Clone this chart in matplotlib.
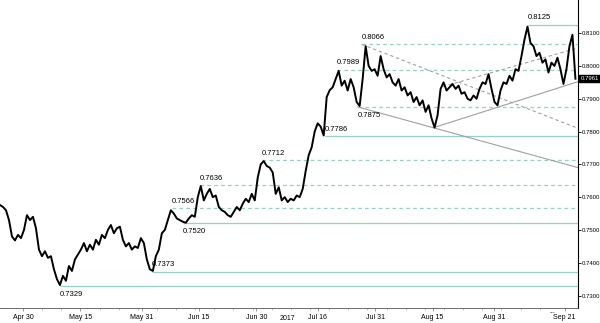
import numpy as np
import matplotlib
matplotlib.use("Agg")
import matplotlib.pyplot as plt
import matplotlib.transforms as mtransforms

# price series, sampled on an even time grid (days since Apr 30)
start_day = -6.0
step_day = 0.783
prices = [
    0.7576, 0.7570, 0.7560, 0.7530, 0.7480, 0.7468, 0.7485, 0.7475, 0.7500, 0.7545,
    0.7530, 0.7540, 0.7505, 0.7440, 0.7420, 0.7435, 0.7415, 0.7420, 0.7380, 0.7350,
    0.7332, 0.7360, 0.7345, 0.7390, 0.7375, 0.7410, 0.7425, 0.7440, 0.7460, 0.7435,
    0.7455, 0.7440, 0.7470, 0.7455, 0.7485, 0.7475, 0.7500, 0.7515, 0.7490, 0.7505,
    0.7510, 0.7470, 0.7450, 0.7460, 0.7440, 0.7450, 0.7445, 0.7475, 0.7460, 0.7410,
    0.7380, 0.7375, 0.7420, 0.7440, 0.7490, 0.7500, 0.7530, 0.7560, 0.7550, 0.7535,
    0.7530, 0.7525, 0.7522, 0.7535, 0.7545, 0.7540, 0.7600, 0.7634, 0.7590, 0.7610,
    0.7625, 0.7600, 0.7605, 0.7570, 0.7560, 0.7555, 0.7545, 0.7540, 0.7555, 0.7570,
    0.7560, 0.7580, 0.7595, 0.7585, 0.7610, 0.7590, 0.7660, 0.7700, 0.7710, 0.7695,
    0.7690, 0.7675, 0.7610, 0.7630, 0.7590, 0.7600, 0.7585, 0.7595, 0.7590, 0.7605,
    0.7600, 0.7625, 0.7680, 0.7728, 0.7752, 0.7800, 0.7825, 0.7815, 0.7788, 0.7905,
    0.7926, 0.7935, 0.7960, 0.7985, 0.7940, 0.7955, 0.7925, 0.7960, 0.7935, 0.7890,
    0.7878, 0.7960, 0.8060, 0.8000, 0.7985, 0.7990, 0.7970, 0.8030, 0.7990, 0.7965,
    0.7975, 0.7950, 0.7940, 0.7960, 0.7925, 0.7935, 0.7910, 0.7920, 0.7890, 0.7905,
    0.7880, 0.7895, 0.7860, 0.7880, 0.7840, 0.7812, 0.7850, 0.7930, 0.7950, 0.7925,
    0.7935, 0.7945, 0.7930, 0.7940, 0.7915, 0.7920, 0.7900, 0.7895, 0.7910, 0.7900,
    0.7930, 0.7950, 0.7945, 0.7975, 0.7930, 0.7890, 0.7880, 0.7925, 0.7950, 0.7945,
    0.7970, 0.7955, 0.7990, 0.7985, 0.8030, 0.8080, 0.8120, 0.8070, 0.8060, 0.8030,
    0.8040, 0.8010, 0.8020, 0.7980, 0.8010, 0.8000, 0.8025, 0.7990, 0.7945, 0.7990,
    0.8060, 0.8095, 0.7961,
]
last_price = 0.7961

# support / resistance levels: value, day where the line starts, solid or dashed
levels = [0.8125, 0.8066, 0.7989, 0.7875, 0.7786, 0.7712, 0.7636, 0.7566, 0.7520, 0.7373, 0.7329]
level_days = [131.9, 88.5, 82.0, 87.5, 78.9, 62.4, 46.2, 38.9, 41.8, 33.7, 9.7]
level_dashed = [False, True, True, True, False, True, True, True, False, False, False]
label_below = [False, False, False, True, False, False, False, False, True, False, True]

# trend lines: (day0, value0, day1, value1)
trend_solid = [(87.5, 0.7875, 145.0, 0.7690), (107.3, 0.7812, 145.0, 0.7952)]
trend_dashed = [(88.5, 0.8066, 145.0, 0.7810), (109.7, 0.7937, 145.0, 0.8055)]

tick_days = [0, 15, 31, 46, 61, 77, 92, 107, 123, 141.5]
tick_labels = ["Apr 30", "May 15", "May 31", "Jun 15", "Jun 30", "Jul 16", "Jul 31", "Aug 15", "Aug 31", "Sep 21"]
y_ticks = [0.73, 0.74, 0.75, 0.76, 0.77, 0.78, 0.79, 0.80, 0.81]

plt.rcParams["font.family"] = ["Liberation Sans", "DejaVu Sans"]

x = start_day + step_day * np.arange(len(prices))
x_max = 145.0

fig = plt.figure(figsize=(6.0, 3.23), dpi=100)
ax = fig.add_axes([0.0, 0.0464, 0.9633, 0.9536])

level_color = "#96d0c6"
for v, d, dashed, below in zip(levels, level_days, level_dashed, label_below):
    ax.hlines(v, d, x_max, colors=level_color, lw=0.9,
              linestyles=(0, (3, 2.5)) if dashed else "solid", zorder=1)
    ax.annotate(f"{v:.4f}", (d, v), xytext=(0, -3.5 if below else 2.5), textcoords="offset points",
                ha="left", va="top" if below else "bottom", fontsize=5.5, zorder=4)

for d0, v0, d1, v1 in trend_solid:
    ax.plot([d0, d1], [v0, v1], color="#a0a0a0", lw=0.8, zorder=1)
for d0, v0, d1, v1 in trend_dashed:
    ax.plot([d0, d1], [v0, v1], color="#a0a0a0", lw=0.8, ls=(0, (3, 2.5)), zorder=1)

ax.plot(x, prices, color="black", lw=1.4, zorder=3)

ax.set_xlim(start_day, x_max)
ax.set_ylim(0.7262, 0.8201)

ax.spines["left"].set_visible(False)
ax.spines["top"].set_visible(False)
ax.spines["right"].set_linewidth(0.8)
ax.spines["bottom"].set_linewidth(0.6)
ax.spines["bottom"].set_color("#555555")

ax.yaxis.tick_right()
ax.set_yticks(y_ticks)
ax.set_yticklabels([f"{t:.4f}" for t in y_ticks])
ax.tick_params(axis="y", labelsize=4.3, length=2, width=0.6, pad=0.8)

ax.set_xticks(tick_days)
ax.set_xticklabels(tick_labels)
ax.set_xticks(np.arange(0, 140, 5), minor=True)
ax.tick_params(axis="x", labelsize=5, length=2, width=0.5, pad=2, color="#777777")
ax.tick_params(axis="x", which="minor", length=1.5, width=0.4, color="#999999")

trans = mtransforms.blended_transform_factory(ax.transAxes, ax.transData)
ax.text(1.004, last_price, f"{last_price:.4f}", transform=trans, color="white", fontsize=4.3,
        va="center", ha="left",
        bbox=dict(boxstyle="square,pad=0.2", fc="black", ec="black"))

ax.text(138.4, 0.7262, "...", fontsize=5, ha="center", va="top")
fig.text(287 / 600, 1 - 319 / 323, "2017", fontsize=5, ha="center", va="center")

fig.savefig("out.png", dpi=100)
